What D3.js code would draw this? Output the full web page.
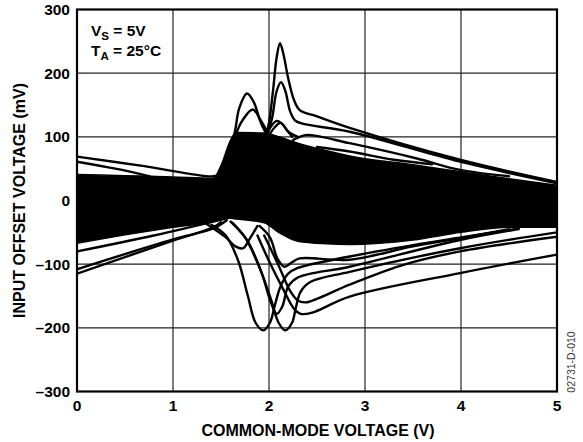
<!DOCTYPE html>
<html>
<head>
<meta charset="utf-8">
<script src="https://cdn.jsdelivr.net/npm/d3@7"></script>
<style>
  html, body { margin: 0; padding: 0; background: #fff; }
  svg { display: block; }
  text { font-family: "Liberation Sans", Arial, Helvetica, sans-serif; }
</style>
</head>
<body>
<svg id="chart" width="583" height="442"></svg>
<script>
// ---------------- DATA ----------------
const xTicks = [0, 1, 2, 3, 4, 5];
const yTicks = [-300, -200, -100, 0, 100, 200, 300];
const xTitle = "COMMON-MODE VOLTAGE (V)";
const yTitle = "INPUT OFFSET VOLTAGE (mV)";
const figId = "02731-D-010";

// envelope of the dense bundle of curves
const bandX     = [0,   0.5, 1.0, 1.42, 1.5, 1.6, 1.66, 1.95, 2.1, 2.3, 2.6, 2.84, 3.5, 4.0, 4.5, 5.0];
const bandUpper = [41,  39,  37,  35,   55,  95,  107,  106,  100, 90,  78,  70,   56,  45,  34,  24];
const bandLower = [-67, -54, -42, -33,  -30, -28, -29,  -35,  -50, -64, -68, -69,  -62, -50, -42, -42];

// individual outlying curves, [V, mV]
const curveL1 = [[0, 69], [0.7, 54], [1.42, 38], [1.5, 42]];
const curveL2 = [[0, 61], [0.4, 50], [0.76, 38]];
const curveL3 = [[0, -80], [0.8, -55], [1.56, -28]];
const curveL4 = [[0, -108], [1.0, -61], [1.42, -44], [1.56, -31]];
const curveL5 = [[0, -115], [1.0, -63], [1.42, -42], [1.5, -34]];

const curveP1 = [[1.95, 100], [1.99, 115], [2.04, 170], [2.08, 225], [2.115, 247], [2.15, 230], [2.2, 192], [2.26, 158], [2.32, 142], [2.5, 132], [2.84, 114], [3.99, 64], [5.0, 29]];
const curveP2 = [[1.97, 100], [2.03, 128], [2.08, 172], [2.125, 186], [2.17, 172], [2.22, 140], [2.27, 126], [2.34, 121], [2.84, 108], [3.99, 61], [5.0, 27]];
const curveP3 = [[1.6, 90], [1.64, 105], [1.69, 145], [1.77, 168], [1.84, 155], [1.91, 124], [1.97, 105]];
const curveP4 = [[1.64, 98], [1.72, 125], [1.83, 143], [1.91, 127], [1.98, 108]];
const curveP5 = [[1.97, 100], [2.02, 116], [2.08, 125], [2.14, 120], [2.2, 108], [2.3, 100]];
const curveP6 = [[2.0, 102], [2.06, 115], [2.12, 122], [2.18, 112], [2.24, 100]];
const curveQ1 = [[2.25, 95], [2.32, 100], [2.4, 103], [2.84, 90], [3.54, 66], [3.99, 48], [4.5, 38]];
const curveQ2 = [[2.5, 84], [2.84, 77], [3.3, 64], [3.7, 57]];

const curveD1 = [[1.4, -38], [1.55, -55], [1.68, -95], [1.78, -150], [1.86, -192], [1.94, -204], [2.01, -192], [2.06, -165], [2.12, -135], [2.2, -115], [2.3, -106], [2.84, -88], [3.5, -70], [4.0, -58], [4.6, -44]];
const curveD2 = [[1.6, -33], [1.75, -58], [1.9, -105], [2.02, -155], [2.1, -192], [2.17, -204], [2.24, -192], [2.28, -168], [2.33, -143], [2.43, -128], [2.84, -112], [3.99, -75], [5.0, -50]];
const curveX1 = [[1.62, -35], [1.77, -62], [1.92, -112], [2.02, -160], [2.08, -178], [2.14, -166], [2.2, -135], [2.3, -121], [2.84, -104], [3.99, -62], [4.6, -45]];
const curveR1 = [[1.88, -55], [2.0, -95], [2.15, -140], [2.26, -170], [2.33, -178], [2.45, -176], [2.84, -151], [3.99, -114], [5.0, -85]];
const curveR2 = [[1.95, -55], [2.1, -102], [2.22, -142], [2.3, -157], [2.38, -160], [2.84, -132], [3.4, -101], [3.99, -80], [5.0, -57]];
const curveS1 = [[1.35, -37], [1.55, -58], [1.65, -72], [1.73, -75], [1.8, -60], [1.88, -40]];
const curveS2 = [[1.9, -40], [2.01, -58], [2.09, -92], [2.16, -104], [2.24, -97], [2.32, -91], [2.84, -93], [3.5, -72], [4.0, -59], [4.5, -45]];

const curves = [curveL1, curveL2, curveL3, curveL4, curveL5,
  curveP1, curveP2, curveP3, curveP4, curveP5, curveP6, curveQ1, curveQ2,
  curveD1, curveD2, curveX1, curveR1, curveR2, curveS1, curveS2];

// ---------------- DRAW ----------------
const svg = d3.select("#chart");
const pL = 77, pR = 557, pT = 9.5, pB = 391.5;
const x = d3.scaleLinear().domain([0, 5]).range([pL, pR]);
const y = d3.scaleLinear().domain([-300, 300]).range([pB, pT]);

const defs = svg.append("defs");
defs.append("clipPath").attr("id", "plotclip")
  .append("rect").attr("x", pL).attr("y", pT).attr("width", pR - pL).attr("height", pB - pT);

// grid
const grid = svg.append("g");
grid.selectAll("line.gx").data(xTicks.slice(1, -1)).join("line")
  .attr("x1", d => x(d)).attr("x2", d => x(d)).attr("y1", pT).attr("y2", pB)
  .attr("stroke", "#222").attr("stroke-width", 1.2);
grid.selectAll("line.gy").data(yTicks.slice(1, -1)).join("line")
  .attr("y1", d => y(d)).attr("y2", d => y(d)).attr("x1", pL).attr("x2", pR)
  .attr("stroke", "#222").attr("stroke-width", 1.2);

const plot = svg.append("g").attr("clip-path", "url(#plotclip)");

// dense band
const bandData = bandX.map((v, i) => ({ x: v, hi: bandUpper[i], lo: bandLower[i] }));
plot.append("path").datum(bandData)
  .attr("d", d3.area().x(d => x(d.x)).y0(d => y(d.lo)).y1(d => y(d.hi)).curve(d3.curveMonotoneX))
  .attr("fill", "#000").attr("stroke", "#000").attr("stroke-width", 1.5);

// outlier curves
const line = d3.line().x(d => x(d[0])).y(d => y(d[1])).curve(d3.curveCatmullRom.alpha(0.5));
plot.selectAll("path.c").data(curves).join("path")
  .attr("d", line).attr("fill", "none").attr("stroke", "#000")
  .attr("stroke-width", 2.4).attr("stroke-linejoin", "round").attr("stroke-linecap", "round");

// frame
svg.append("rect").attr("x", pL).attr("y", pT).attr("width", pR - pL).attr("height", pB - pT)
  .attr("fill", "none").attr("stroke", "#000").attr("stroke-width", 2.2);

// axes labels
const fmt = d => d < 0 ? "\u2013" + Math.abs(d) : String(d);
svg.append("g").selectAll("text").data(yTicks).join("text")
  .attr("x", 70).attr("y", d => y(d)).attr("dy", "0.36em")
  .attr("text-anchor", "end").attr("font-size", 15.5).attr("font-weight", "bold")
  .text(fmt);
svg.append("g").selectAll("text").data(xTicks).join("text")
  .attr("x", d => x(d)).attr("y", 411)
  .attr("text-anchor", "middle").attr("font-size", 15.5).attr("font-weight", "bold")
  .text(fmt);

svg.append("text").attr("x", 318).attr("y", 436)
  .attr("text-anchor", "middle").attr("font-size", 16).attr("font-weight", "bold")
  .text(xTitle);
svg.append("text").attr("transform", `translate(25,${(pT + pB) / 2}) rotate(-90)`)
  .attr("text-anchor", "middle").attr("font-size", 16).attr("font-weight", "bold")
  .text(yTitle);

// annotation
const ann = svg.append("g").attr("font-size", 15.5).attr("font-weight", "bold");
const t1 = ann.append("text").attr("x", 91).attr("y", 36);
t1.append("tspan").text("V");
t1.append("tspan").attr("font-size", 11.5).attr("dy", 4).text("S");
t1.append("tspan").attr("dy", -4).text(" = 5V");
const t2 = ann.append("text").attr("x", 91).attr("y", 56);
t2.append("tspan").text("T");
t2.append("tspan").attr("font-size", 11.5).attr("dy", 4).text("A");
t2.append("tspan").attr("dy", -4).text(" = 25\u00B0C");

// figure id
svg.append("text").attr("transform", "translate(575,362) rotate(-90)")
  .attr("text-anchor", "middle").attr("font-size", 10.5).attr("fill", "#333")
  .text(figId);
</script>
</body>
</html>
